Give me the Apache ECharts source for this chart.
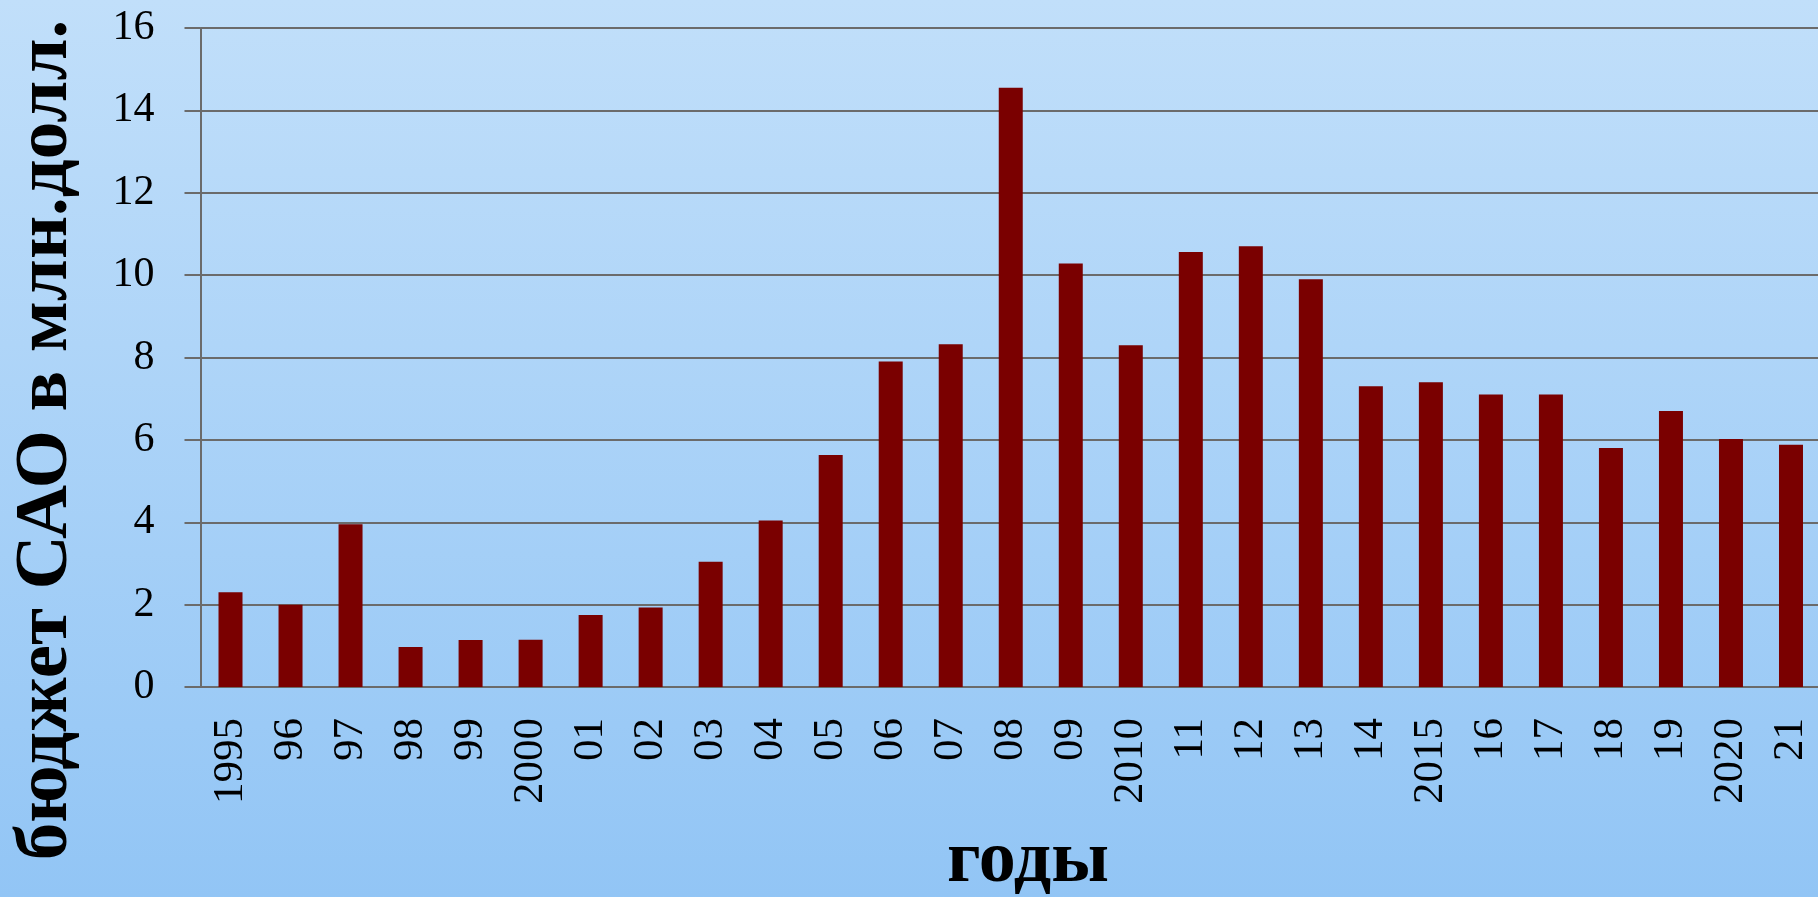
<!DOCTYPE html>
<html>
<head>
<meta charset="utf-8">
<script src="https://cdn.jsdelivr.net/npm/echarts@6/dist/echarts.min.js"></script>
<style>
  html, body { margin: 0; padding: 0; }
  #chart { width: 1818px; height: 897px; }
</style>
</head>
<body>
<div id="chart"></div>
<script>
// годы (подписи оси X)
var years = ['1995', '96', '97', '98', '99', '2000', '01', '02', '03', '04', '05', '06', '07', '08', '09',
    '2010', '11', '12', '13', '14', '2015', '16', '17', '18', '19', '2020', '21'];
// бюджет САО, млн. долл.
var budget = [2.3, 2.0, 3.95, 0.97, 1.14, 1.15, 1.75, 1.93, 3.04, 4.04, 5.63, 7.9, 8.32, 14.55, 10.28,
    8.3, 10.56, 10.7, 9.9, 7.3, 7.4, 7.1, 7.1, 5.8, 6.7, 6.02, 5.88];

var yTitle = 'бюджет САО в млн.долл.';
var xTitle = 'годы';

var gridColor = '#6b6b6b';
var serif = '"Liberation Serif", "DejaVu Serif", serif';

var myChart = echarts.init(document.getElementById('chart'));

var option = {
    animation: false,
    backgroundColor: {
        type: 'linear', x: 0, y: 0, x2: 0, y2: 1,
        colorStops: [
            { offset: 0, color: '#c1dffa' },
            { offset: 1, color: '#92c5f5' }
        ]
    },
    grid: {
        left: 200.5,
        top: 28,
        right: -3,
        bottom: 210,
        outerBoundsMode: 'none'
    },
    xAxis: {
        type: 'category',
        data: years,
        axisLine: { lineStyle: { color: gridColor, width: 2 } },
        axisTick: { length: 15, lineStyle: { color: gridColor, width: 1.5 } },
        axisLabel: {
            interval: 0,
            rotate: 90,
            margin: 31,
            padding: [12, 0, 0, 0],
            color: '#000',
            fontFamily: serif,
            fontSize: 43
        }
    },
    yAxis: {
        type: 'value',
        min: 0,
        max: 16,
        interval: 2,
        axisLine: { show: true, lineStyle: { color: gridColor, width: 2 } },
        axisTick: { show: true, length: 16, lineStyle: { color: gridColor, width: 2 } },
        splitLine: { lineStyle: { color: gridColor, width: 2 } },
        axisLabel: {
            margin: 46,
            color: '#000',
            fontFamily: serif,
            fontSize: 42
        }
    },
    graphic: [
        {
            type: 'text',
            x: 47,
            y: 440,
            rotation: Math.PI / 2,
            style: {
                text: yTitle,
                fill: '#000',
                font: 'bold 75px ' + serif,
                textAlign: 'center',
                textVerticalAlign: 'middle'
            }
        },
        {
            type: 'text',
            x: 1028,
            y: 862,
            style: {
                text: xTitle,
                fill: '#000',
                font: 'bold 74px ' + serif,
                textAlign: 'center',
                textVerticalAlign: 'middle'
            }
        }
    ],
    series: [{
        type: 'bar',
        data: budget,
        barWidth: 24,
        itemStyle: { color: '#7a0000' }
    }]
};

myChart.setOption(option);
</script>
</body>
</html>
